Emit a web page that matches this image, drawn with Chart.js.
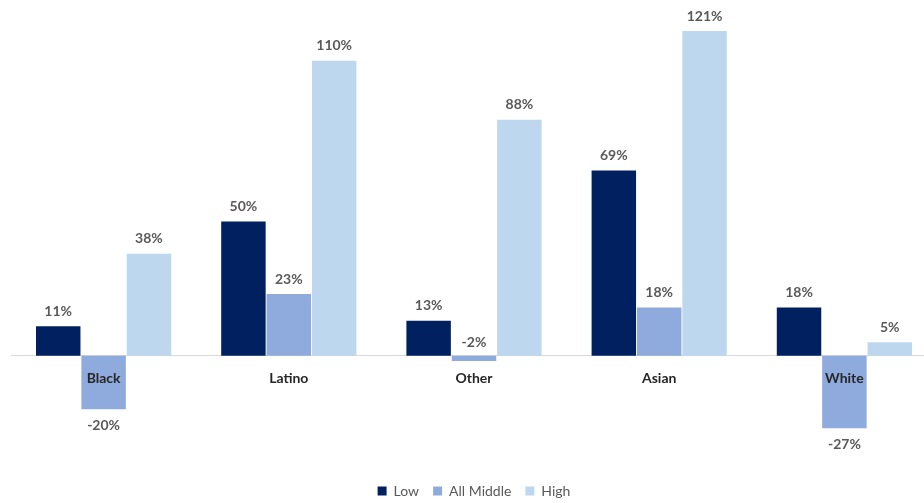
<!DOCTYPE html>
<html>
<head>
<meta charset="utf-8">
<script src="https://cdn.jsdelivr.net/npm/chart.js@4"></script>
<style>
html,body{margin:0;padding:0;background:#fff;overflow:hidden;}
#wrap{position:relative;width:937px;height:503px;}
</style>
</head>
<body>
<div id="wrap"><canvas id="c"></canvas></div>
<script>
const categories = ["Black", "Latino", "Other", "Asian", "White"];
const lowValues = [11, 50, 13, 69, 18];
const middleValues = [-20, 23, -2, 18, -27];
const highValues = [38, 110, 88, 121, 5];
const seriesNames = ["Low", "All Middle", "High"];

const labelFont = "Lato, 'Open Sans', 'Liberation Sans', sans-serif";

const dataLabels = {
  id: 'dataLabels',
  afterDatasetsDraw(chart) {
    const ctx = chart.ctx;
    ctx.save();
    ctx.font = "bold 14px " + labelFont;
    ctx.fillStyle = "#595959";
    ctx.textAlign = "center";
    ctx.textBaseline = "middle";
    chart.data.datasets.forEach((ds, di) => {
      const meta = chart.getDatasetMeta(di);
      meta.data.forEach((el, i) => {
        const v = ds.data[i];
        let y;
        if (v >= 0) y = el.y - 15;
        else if (Math.abs(el.y - el.base) < 20) y = el.base - 13;
        else y = el.y + 16;
        ctx.fillText(v + "%", el.x, y);
      });
    });
    ctx.restore();
  }
};

new Chart(document.getElementById('c'), {
  type: 'bar',
  data: {
    labels: categories,
    datasets: [
      { label: seriesNames[0], data: lowValues, backgroundColor: "#002060" },
      { label: seriesNames[1], data: middleValues, backgroundColor: "#8FAADC" },
      { label: seriesNames[2], data: highValues, backgroundColor: "#BDD7EE" }
    ]
  },
  options: {
    responsive: true,
    maintainAspectRatio: false,
    animation: false,
    layout: { padding: { left: 11, right: 0, top: 0, bottom: -5 } },
    datasets: { bar: { categoryPercentage: 0.735, barPercentage: 0.98 } },
    scales: {
      x: {
        position: { y: 0 },
        grid: { display: false, drawTicks: false },
        border: { display: true, color: "#D9D9D9", width: 1 },
        ticks: { z: 1, padding: 14, color: "#262626", font: { family: labelFont, size: 14, weight: "bold" } }
      },
      y: {
        display: false,
        min: -42.6,
        max: 132.6
      }
    },
    plugins: {
      legend: {
        position: 'bottom',
        labels: {
          boxWidth: 9, boxHeight: 9, padding: 14,
          color: "#595959",
          font: { family: labelFont, size: 14 }
        }
      },
      tooltip: { enabled: false }
    }
  },
  plugins: [dataLabels]
});
</script>
</body>
</html>
